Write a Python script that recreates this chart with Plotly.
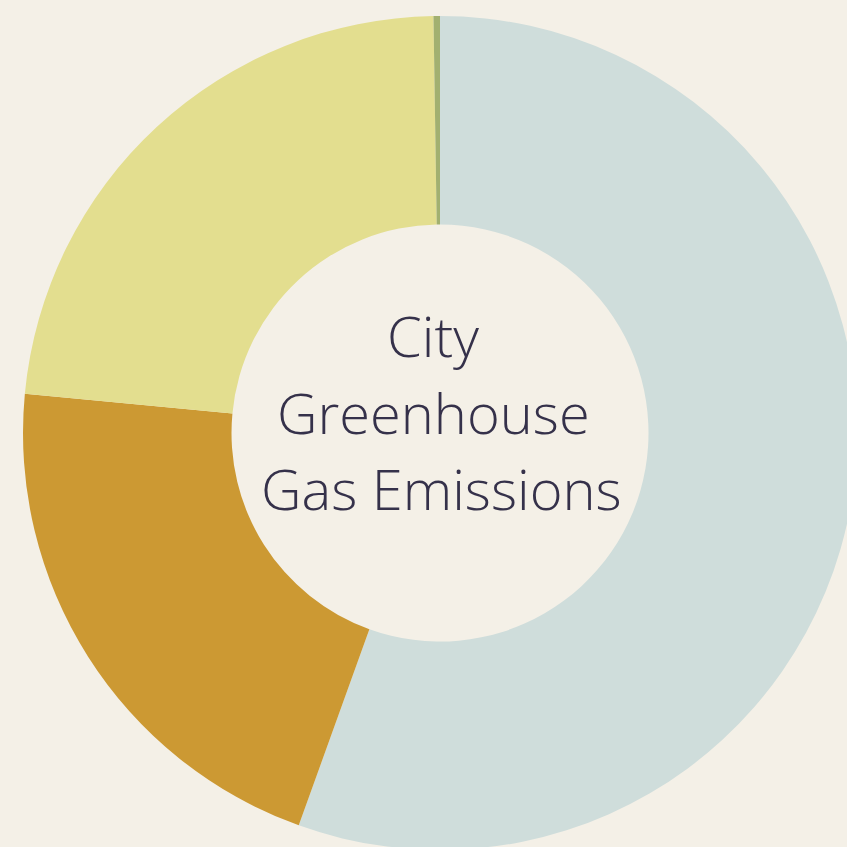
import plotly.graph_objects as go

categories = ["Transportation", "Buildings (Natural Gas)", "Buildings (Electricity)", "Waste"]
values = [55.5, 21.0, 23.25, 0.25]
colors = ["#cfdddb", "#cc9933", "#e3de8f", "#a2b070"]
title_lines = ["City", "Greenhouse", "Gas Emissions"]

W = H = 880
fig = go.Figure(go.Pie(
    labels=categories,
    values=values,
    hole=0.5,
    sort=False,
    direction="clockwise",
    rotation=0,
    marker=dict(colors=colors, line=dict(width=0)),
    textinfo="none",
    hoverinfo="label+percent",
    showlegend=False,
))

# place the three title lines in the hole
line_px = [335, 412, 488]
line_cx = [433, 433, 441]
pa_top, pa_bot, pa_l, pa_r = 16, 850, 23, 857
annots = []
for txt, py, cx in zip(title_lines, line_px, line_cx):
    annots.append(dict(
        text=txt, x=(cx - pa_l) / (pa_r - pa_l), xref="paper",
        y=(pa_bot - py) / (pa_bot - pa_top), yref="paper",
        xanchor="center", yanchor="middle", showarrow=False,
        font=dict(family="Open Sans", size=56, weight=350, color="#35314a"),
    ))

fig.update_layout(
    width=W, height=H,
    margin=dict(l=pa_l, r=W - pa_r, t=pa_top, b=H - pa_bot, pad=0),
    paper_bgcolor="#f4f0e7",
    plot_bgcolor="#f4f0e7",
    annotations=annots,
)

fig.write_html(
    "out.html",
    config={"displayModeBar": False},
    post_script="document.body.style.margin='0';document.body.style.overflow='hidden';document.body.style.background='#f4f0e7';",
)
